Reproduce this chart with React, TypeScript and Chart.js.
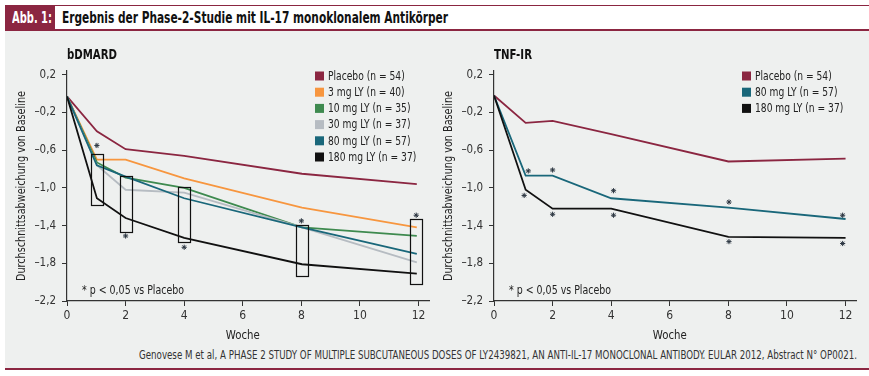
import React, { useEffect, useLayoutEffect, useRef } from "react";
import { Chart, registerables } from "chart.js";
Chart.register(...registerables);

const FONT = '"Liberation Sans Narrow", "DejaVu Sans Condensed", "Arial Narrow", "Liberation Sans", sans-serif';
const MAROON = "#8b2641";
const GRAY = "#eef0ef";
const INK = "#222";

// ---- shared axes ----
const xTicks = [0, 2, 4, 6, 8, 10, 12];
const yTicks = [0.2, -0.2, -0.6, -1.0, -1.4, -1.8, -2.2];
const yTickLabels = ["0,2", "–0,2", "–0,6", "–1,0", "–1,4", "–1,8", "–2,2"];
const xMin = 0;
const xMax = 12.38;
const yMin = -2.2;
const yMax = 0.24;

// ---- bDMARD panel ----
const weeksB = [0, 1.02, 2, 4, 8.02, 11.94];
const bNames = [
  "Placebo (n = 54)",
  "3 mg LY (n = 40)",
  "10 mg LY (n = 35)",
  "30 mg LY (n = 37)",
  "80 mg LY (n = 57)",
  "180 mg LY (n = 37)",
];
const bColors = [MAROON, "#f7963f", "#3e8a4f", "#b6bcc2", "#19677a", "#111111"];
const bPlacebo = [-0.03, -0.4, -0.59, -0.66, -0.85, -0.96];
const b3mg = [-0.03, -0.7, -0.7, -0.9, -1.21, -1.42];
const b10mg = [-0.03, -0.73, -0.89, -1.0, -1.42, -1.51];
const b30mg = [-0.03, -0.76, -1.02, -1.05, -1.42, -1.79];
const b80mg = [-0.03, -0.76, -0.88, -1.11, -1.42, -1.7];
const b180mg = [-0.03, -1.11, -1.32, -1.53, -1.81, -1.91];
const bSeries = [bPlacebo, b3mg, b10mg, b30mg, b80mg, b180mg];

const bBoxX = [1.02, 2.0, 4.0, 8.02, 11.92];
const bBoxHigh = [-0.64, -0.87, -0.99, -1.39, -1.33];
const bBoxLow = [-1.18, -1.46, -1.57, -1.93, -2.02];
const bStarX = [1.02, 2.0, 4.0, 8.0, 11.92];
const bStarY = [-0.55, -1.51, -1.63, -1.35, -1.29];

// ---- TNF-IR panel ----
const weeksT = [0, 1.08, 2, 4, 8, 12];
const tNames = ["Placebo (n = 54)", "80 mg LY (n = 57)", "180 mg LY (n = 37)"];
const tColors = [MAROON, "#19677a", "#111111"];
const tPlacebo = [-0.02, -0.31, -0.29, -0.43, -0.72, -0.69];
const t80mg = [-0.02, -0.87, -0.87, -1.11, -1.21, -1.33];
const t180mg = [-0.02, -1.02, -1.22, -1.22, -1.52, -1.53];
const tSeries = [tPlacebo, t80mg, t180mg];
const t80StarX = [1.17, 2.0, 4.08, 8.02, 11.9];
const t80StarY = [-0.82, -0.81, -1.03, -1.15, -1.29];
const t180StarX = [1.03, 2.0, 4.08, 8.02, 11.9];
const t180StarY = [-1.08, -1.28, -1.29, -1.57, -1.59];

const noteText = "* p < 0,05 vs Placebo";
const xTitle = "Woche";
const yTitle = "Durchschnittsabweichung von Baseline";
const headerTag = "Abb. 1:";
const headerTitle = "Ergebnis der Phase-2-Studie mit IL-17 monoklonalem Antikörper";
const sourceText =
  "Genovese M et al, A PHASE 2 STUDY OF MULTIPLE SUBCUTANEOUS DOSES OF LY2439821, AN ANTI-IL-17 MONOCLONAL ANTIBODY. EULAR 2012, Abstract N° OP0021.";

type PanelCfg = {
  title: string;
  titleWidth: number;
  names: string[];
  colors: string[];
  weeks: number[];
  series: number[][];
  stars: { x: number[]; y: number[] }[];
  boxes?: { x: number[]; high: number[]; low: number[] };
};

function fitText(ctx: CanvasRenderingContext2D, text: string, x: number, y: number, w: number, align: CanvasTextAlign) {
  const m = ctx.measureText(text).width;
  const s = Math.min(1, w / m);
  ctx.save();
  ctx.translate(x, y);
  ctx.scale(s, 1);
  ctx.textAlign = align;
  ctx.fillText(text, 0, 0);
  ctx.restore();
}

function makePlugin(cfg: PanelCfg) {
  return {
    id: "panelDeco",
    afterDraw(chart: any) {
      const { ctx, chartArea: a, scales } = chart;
      const xs = scales.x;
      const ys = scales.y;
      ctx.save();
      // significance boxes
      if (cfg.boxes) {
        ctx.strokeStyle = "#111";
        ctx.lineWidth = 1.2;
        cfg.boxes.x.forEach((bx, i) => {
          const x0 = xs.getPixelForValue(bx - 0.2);
          const x1 = xs.getPixelForValue(bx + 0.2);
          const y0 = ys.getPixelForValue(cfg.boxes!.high[i]);
          const y1 = ys.getPixelForValue(cfg.boxes!.low[i]);
          ctx.strokeRect(Math.round(x0) + 0.5, Math.round(y0) + 0.5, Math.round(x1 - x0), Math.round(y1 - y0));
        });
      }
      // panel title
      ctx.fillStyle = "#111";
      ctx.textBaseline = "middle";
      ctx.font = `bold 14px ${FONT}`;
      fitText(ctx, cfg.title, a.left, a.top - 16, cfg.titleWidth, "left");
      // legend
      ctx.font = `12.5px ${FONT}`;
      const sq = 76.7 / ctx.measureText("Placebo (n = 54)").width;
      cfg.names.forEach((n, i) => {
        const cy = a.top + 5 + i * 16.2;
        const lx = a.left + 248;
        ctx.fillStyle = cfg.colors[i];
        ctx.fillRect(lx, cy - 4.5, 9, 9);
        ctx.fillStyle = INK;
        const w = ctx.measureText(n).width * sq;
        fitText(ctx, n, lx + 13, cy + 0.5, w, "left");
      });
      // note
      ctx.fillStyle = INK;
      fitText(ctx, noteText, a.left + 15, a.bottom - 10, 102, "left");
      // x title
      fitText(ctx, xTitle, xs.getPixelForValue(6), a.bottom + 35, 34, "center");
      // y title
      ctx.translate(a.left - 45, (a.top + a.bottom) / 2);
      ctx.rotate(-Math.PI / 2);
      fitText(ctx, yTitle, 0, 0, 190, "center");
      ctx.restore();
    },
  };
}

function buildConfig(cfg: PanelCfg): any {
  const lineSets = cfg.series.map((s, i) => ({
    type: "line",
    label: cfg.names[i],
    data: s.map((v, j) => ({ x: cfg.weeks[j], y: v })),
    borderColor: cfg.colors[i],
    backgroundColor: cfg.colors[i],
    borderWidth: 1.8,
    pointRadius: 0,
    tension: 0,
    order: cfg.series.length - i,
  }));
  const starSets = cfg.stars.map((st, k) => ({
    type: "scatter",
    label: "sig" + k,
    data: st.x.map((v, j) => ({ x: v, y: st.y[j] })),
    pointStyle: "star",
    pointRadius: 2.6,
    borderWidth: 1,
    borderColor: "#2b3540",
    backgroundColor: "#2b3540",
    showLine: false,
    order: 0,
  }));
  return {
    type: "line",
    data: { datasets: [...lineSets, ...starSets] },
    options: {
      animation: false,
      responsive: false,
      events: [],
      layout: { padding: { left: 0, right: 7.3, top: 40, bottom: 0 } },
      plugins: { legend: { display: false }, tooltip: { enabled: false }, title: { display: false } },
      scales: {
        x: {
          type: "linear",
          min: xMin,
          max: xMax,
          afterBuildTicks: (s: any) => {
            s.ticks = xTicks.map((v) => ({ value: v }));
          },
          afterFit: (s: any) => {
            s.height = 44;
          },
          grid: { display: true, drawOnChartArea: false, drawTicks: true, tickLength: 5, color: "#333", lineWidth: 1 },
          border: { display: true, color: "#333", width: 1.2 },
          ticks: { color: "#333", font: { family: FONT, size: 12 }, padding: 3, maxRotation: 0, autoSkip: false },
        },
        y: {
          type: "linear",
          min: yMin,
          max: yMax,
          afterBuildTicks: (s: any) => {
            s.ticks = yTicks.map((v) => ({ value: v }));
          },
          afterFit: (s: any) => {
            s.width = 57;
          },
          grid: { display: true, drawOnChartArea: false, drawTicks: true, tickLength: 5, color: "#333", lineWidth: 1 },
          border: { display: true, color: "#333", width: 1.2 },
          ticks: {
            color: "#333",
            font: { family: FONT, size: 11.5 },
            padding: 6,
            autoSkip: false,
            callback: (_v: any, i: number) => yTickLabels[i],
          },
        },
      },
    },
    plugins: [makePlugin(cfg)],
  };
}

function Panel({ cfg, left }: { cfg: PanelCfg; left: number }) {
  const ref = useRef<HTMLCanvasElement>(null);
  useEffect(() => {
    if (!ref.current) return;
    const ch = new Chart(ref.current, buildConfig(cfg));
    return () => ch.destroy();
  }, []);
  return (
    <canvas
      ref={ref}
      width={427}
      height={314}
      style={{ position: "absolute", left, top: 31, width: 427, height: 314 }}
    />
  );
}

function FitText({
  text,
  left,
  top,
  width,
  height,
  style,
}: {
  text: string;
  left: number;
  top: number;
  width: number;
  height: number;
  style: React.CSSProperties;
}) {
  const ref = useRef<HTMLSpanElement>(null);
  useLayoutEffect(() => {
    const el = ref.current;
    if (!el) return;
    el.style.transform = "none";
    const w = el.getBoundingClientRect().width;
    if (w > 0) el.style.transform = `scaleX(${width / w})`;
  }, []);
  return (
    <span
      ref={ref}
      style={{
        position: "absolute",
        left,
        top,
        height,
        lineHeight: `${height}px`,
        whiteSpace: "nowrap",
        transformOrigin: "left center",
        ...style,
      }}
    >
      {text}
    </span>
  );
}

const bCfg: PanelCfg = {
  title: "bDMARD",
  titleWidth: 50,
  names: bNames,
  colors: bColors,
  weeks: weeksB,
  series: bSeries,
  stars: [{ x: bStarX, y: bStarY }],
  boxes: { x: bBoxX, high: bBoxHigh, low: bBoxLow },
};
const tCfg: PanelCfg = {
  title: "TNF-IR",
  titleWidth: 38,
  names: tNames,
  colors: tColors,
  weeks: weeksT,
  series: tSeries,
  stars: [
    { x: t80StarX, y: t80StarY },
    { x: t180StarX, y: t180StarY },
  ],
};

export default function App() {
  return (
    <div
      style={{
        position: "absolute",
        left: 0,
        top: 0,
        width: 869,
        height: 376,
        background: "#fff",
        overflow: "hidden",
        fontFamily: FONT,
      }}
    >
      <div style={{ position: "absolute", left: 5, top: 31, width: 864, height: 337, background: GRAY }} />
      <div
        style={{
          position: "absolute",
          left: 5,
          top: 5,
          width: 864,
          height: 26,
          boxSizing: "border-box",
          borderTop: `1.5px solid ${MAROON}`,
          borderBottom: `2px solid ${MAROON}`,
          background: "#fff",
        }}
      />
      <div style={{ position: "absolute", left: 5, top: 5, width: 50, height: 26, background: MAROON }} />
      <FitText
        text={headerTag}
        left={12}
        top={5}
        width={40}
        height={26}
        style={{ color: "#fff", fontWeight: "bold", fontSize: 15 }}
      />
      <FitText
        text={headerTitle}
        left={62}
        top={5}
        width={386}
        height={26}
        style={{ color: "#111", fontWeight: "bold", fontSize: 15 }}
      />
      <Panel cfg={bCfg} left={10} />
      <Panel cfg={tCfg} left={437} />
      <FitText
        text={sourceText}
        left={139}
        top={347}
        width={718}
        height={16}
        style={{ color: "#333", fontSize: 11.5 }}
      />
      <div style={{ position: "absolute", left: 5, top: 368, width: 864, height: 2, background: MAROON }} />
    </div>
  );
}
